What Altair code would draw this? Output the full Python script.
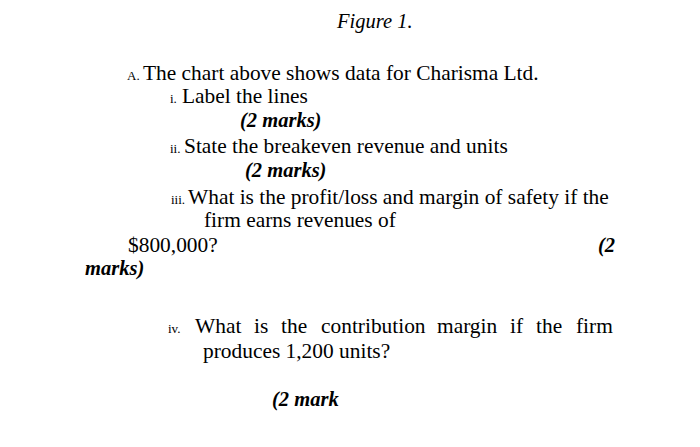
import altair as alt
import pandas as pd

# Main body text (Times-like serif, regular)
body_texts = [
    "The chart above shows data for Charisma Ltd.",
    "Label the lines",
    "State the breakeven revenue and units",
    "What is the profit/loss and margin of safety if the",
    "firm earns revenues of",
    "$800,000?",
    "What", "is", "the", "contribution", "margin", "if", "the", "firm",
    "produces 1,200 units?",
]
body_x = [143, 182, 184, 188, 204, 128, 195, 254, 281, 321, 437, 510, 536, 576, 203]
body_y = [80, 103, 153, 204, 227, 252, 333, 333, 333, 333, 333, 333, 333, 333, 358]

# Small numbering labels
num_texts = ["A.", "i.", "ii.", "iii.", "iv."]
num_x = [127, 170, 170, 171, 168]
num_y = [80, 103, 153, 204, 333]

# Bold italic marks
mark_texts = ["(2 marks)", "(2 marks)", "(2", "marks)", "(2 mark"]
mark_x = [240, 245, 598, 85, 272]
mark_y = [127, 177, 252, 275, 406]

# Italic title
title_texts = ["Figure 1."]
title_x = [337]
title_y = [28]

W, H = 684, 431
xs = alt.Scale(domain=[8, 8 + W], range=[0, W])
ys = alt.Scale(domain=[8, 8 + H], range=[0, H])


def layer(texts, x, y, size, style="normal", weight="normal"):
    df = pd.DataFrame({"t": texts, "x": x, "y": y})
    return alt.Chart(df).mark_text(
        align="left", baseline="alphabetic", font="Liberation Serif",
        fontSize=size, fontStyle=style, fontWeight=weight, color="#000000",
    ).encode(
        x=alt.X("x:Q", scale=xs, axis=None),
        y=alt.Y("y:Q", scale=ys, axis=None),
        text="t:N",
    )


chart = alt.layer(
    layer(title_texts, title_x, title_y, 20.5, style="italic"),
    layer(body_texts, body_x, body_y, 21.4),
    layer(num_texts, num_x, num_y, 13),
    layer(mark_texts, mark_x, mark_y, 20.5, style="italic", weight="bold"),
).properties(
    width=W, height=H, autosize=alt.AutoSizeParams(type="none"), padding=0,
    background="white",
).configure_view(stroke=None)

chart.save("out.html", embed_options={"renderer": "svg", "actions": False})
